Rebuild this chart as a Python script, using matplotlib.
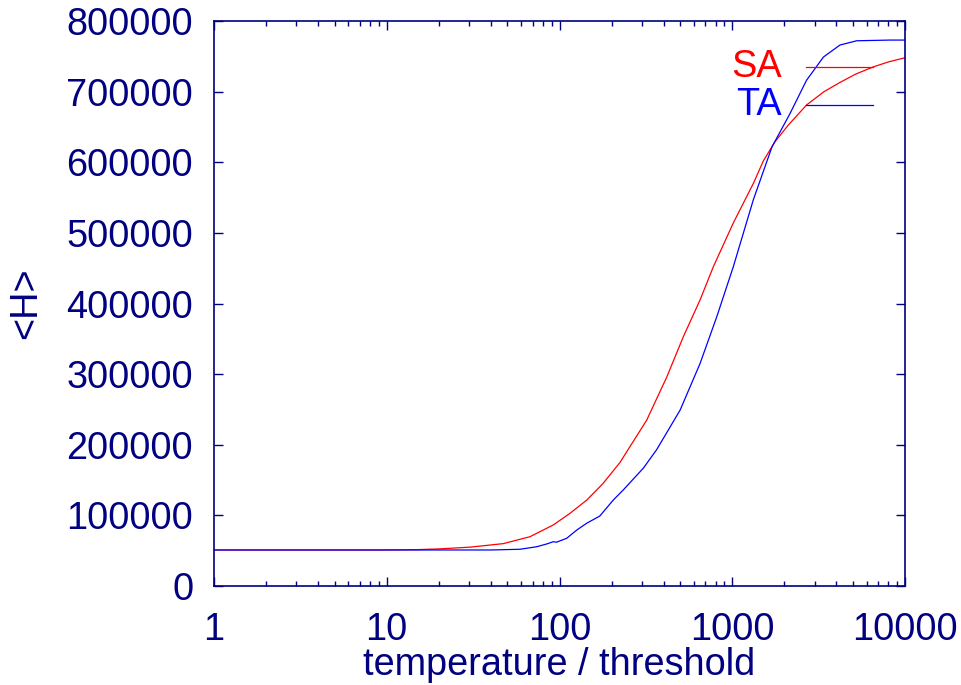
import matplotlib
matplotlib.use("Agg")
import matplotlib.pyplot as plt
from matplotlib.ticker import FixedLocator, FixedFormatter, LogLocator, NullFormatter

plt.rcParams['font.family'] = ['Liberation Sans', 'DejaVu Sans']

# data
sa_x = [1, 10, 15, 20, 30.3, 47.3, 67.5, 92, 115, 144, 179, 224, 320, 418, 521,
        651, 777, 1014, 1325, 1514, 1767, 2100, 2690, 3400, 4204, 5200, 6560,
        8000, 10000]
sa_y = [51000, 51000, 51500, 52500, 55000, 60000, 69800, 86400, 102900, 121800,
        145400, 175000, 235000, 296000, 353000, 405000, 452000, 514000, 570000,
        602000, 629000, 652000, 681000, 700000, 713000, 725000, 735000, 742000,
        748000]

ta_x = [1, 10, 40, 59, 73.8, 84.3, 92, 96, 110, 126, 144, 171, 205, 234, 306,
        365, 499, 651, 813, 1014, 1325, 1700, 2160, 2690, 3373, 4204, 5250,
        8190, 10000]
ta_y = [51000, 51000, 51000, 52000, 55600, 59500, 62700, 62000, 67500, 79300,
        89000, 99000, 121800, 136000, 167000, 193000, 249000, 315000, 381000,
        452000, 547000, 622000, 669000, 716000, 749000, 766000, 772000, 773000,
        773000]

x_ticks = [1, 10, 100, 1000, 10000]
x_tick_labels = ["1", "10", "100", "1000", "10000"]
y_ticks = [0, 100000, 200000, 300000, 400000, 500000, 600000, 700000, 800000]
y_tick_labels = [str(v) for v in y_ticks]

navy = '#000080'
fs = 27.3

fig = plt.figure(figsize=(9.62, 6.85), dpi=100)
ax = fig.add_axes([214/962, 1-586/685, (905-214)/962, (586-21)/685])

ax.plot(sa_x, sa_y, color='#ff0000', lw=0.9)
ax.plot(ta_x, ta_y, color='#0000ff', lw=0.9)

ax.set_xscale('log')
ax.set_xlim(1, 10000)
ax.set_ylim(0, 800000)

ax.xaxis.set_major_locator(FixedLocator(x_ticks))
ax.xaxis.set_major_formatter(FixedFormatter(x_tick_labels))
ax.xaxis.set_minor_locator(LogLocator(base=10, subs=range(2, 10)))
ax.xaxis.set_minor_formatter(NullFormatter())
ax.yaxis.set_major_locator(FixedLocator(y_ticks))
ax.yaxis.set_major_formatter(FixedFormatter(y_tick_labels))

for s in ax.spines.values():
    s.set_color(navy)
    s.set_linewidth(1.2)

ax.tick_params(which='both', direction='in', top=True, right=True, colors=navy,
               labelsize=fs, width=1.0)
ax.tick_params(which='major', length=6.5)
ax.tick_params(which='minor', length=3.5)
ax.tick_params(axis='x', which='major', pad=19)
ax.tick_params(axis='y', which='major', pad=15)

ax.set_xlabel('temperature / threshold', fontsize=fs, color=navy, labelpad=-1)
ax.set_ylabel('<H>', fontsize=fs, color=navy, labelpad=16)

# legend
ax.text(0.822, 0.9186, 'SA', transform=ax.transAxes, color='#ff0000', fontsize=fs,
        ha='right', va='center')
ax.plot([0.857, 0.954], [0.9186, 0.9186], transform=ax.transAxes, color='#ff0000', lw=0.9)
ax.text(0.822, 0.851, 'TA', transform=ax.transAxes, color='#0000ff', fontsize=fs,
        ha='right', va='center')
ax.plot([0.857, 0.954], [0.851, 0.851], transform=ax.transAxes, color='#0000ff', lw=0.9)

fig.savefig('out.png', dpi=100)
